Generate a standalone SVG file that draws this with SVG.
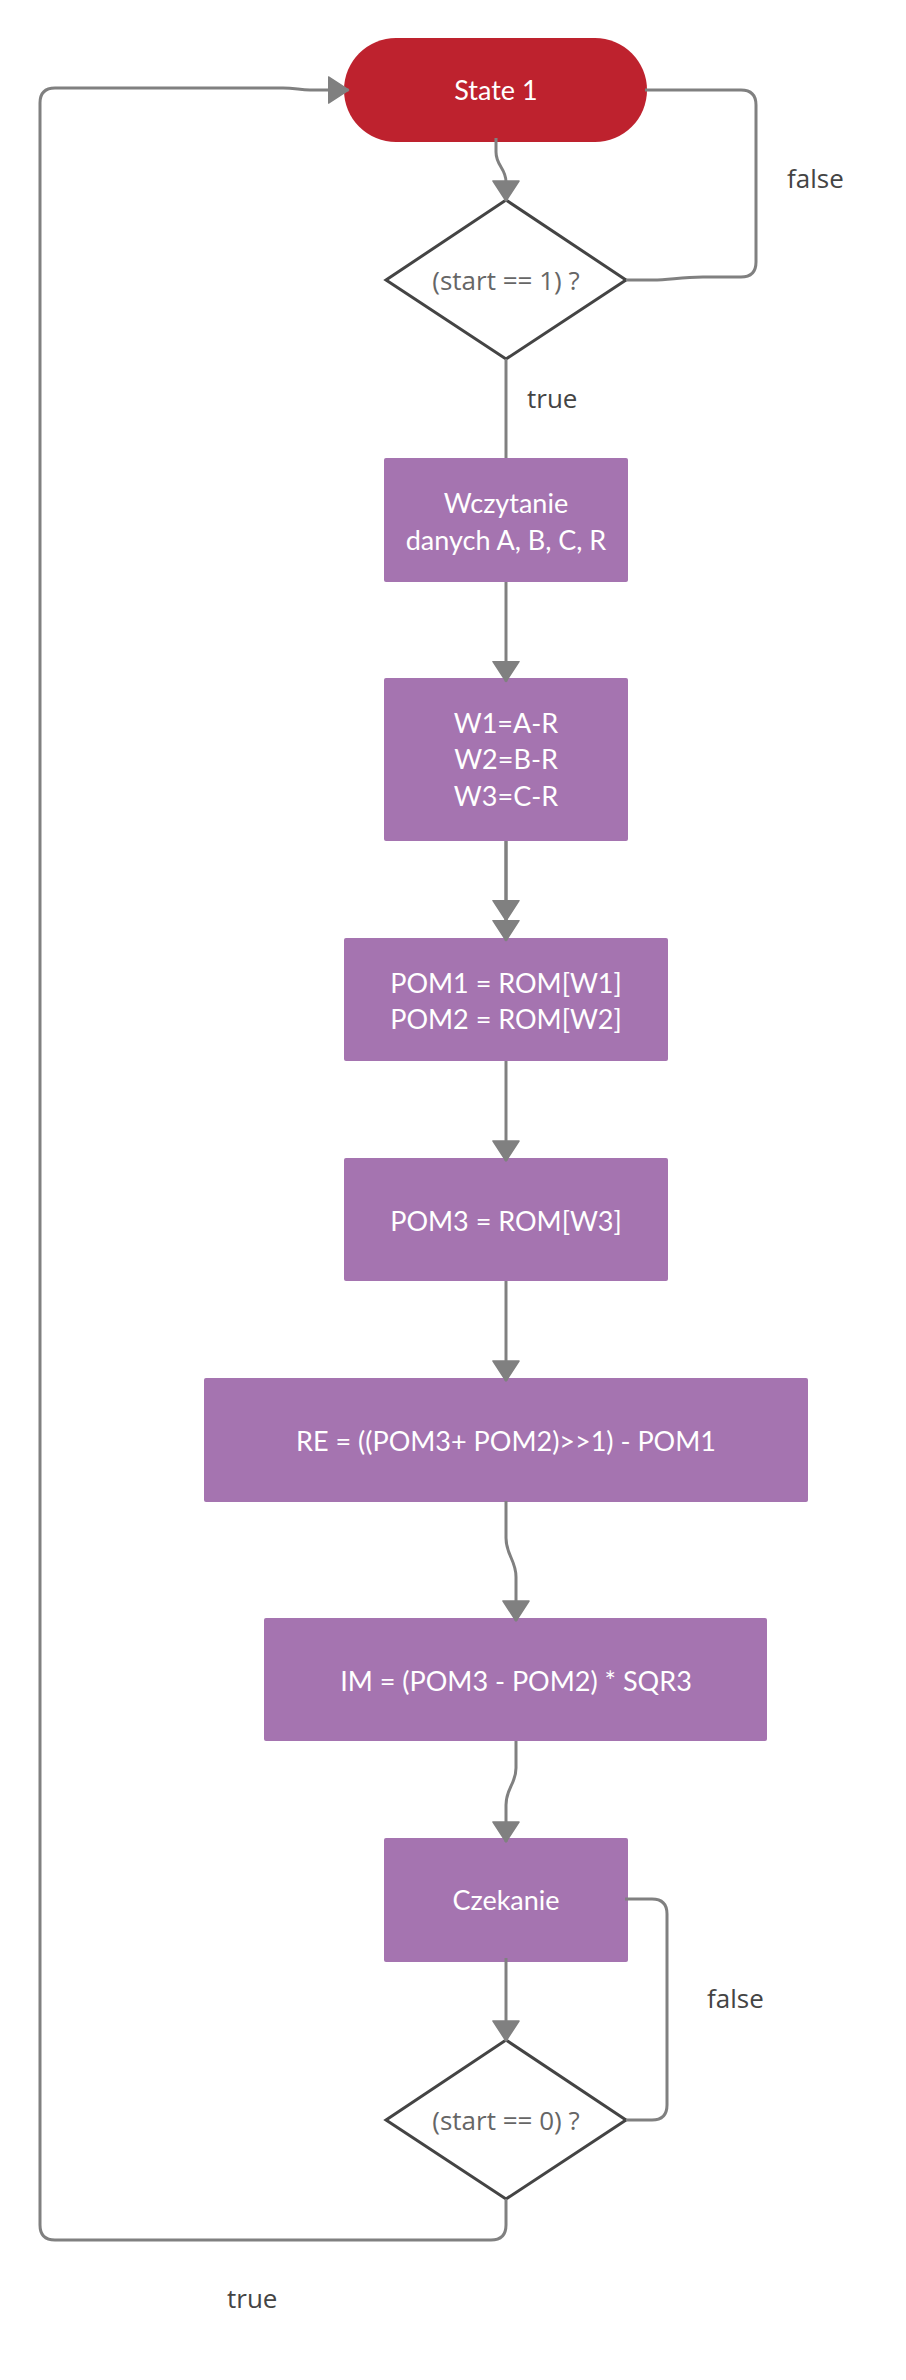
<svg xmlns="http://www.w3.org/2000/svg" width="906" height="2380" viewBox="0 0 906 2380">
<defs>
<marker id="arr" markerUnits="userSpaceOnUse" markerWidth="22" markerHeight="28" viewBox="0 0 22 28" refX="21" refY="14" orient="auto">
<path d="M1,1 L21,14 L1,27 Z" fill="#808080" stroke="#808080" stroke-width="1.5" stroke-linejoin="round"/>
</marker>
</defs>
<style>
.box{fill:#A574B0}
.pill{fill:#BE222E}
.dia{fill:#FFFFFF;stroke:#444444;stroke-width:3;stroke-linejoin:miter}
.nt{font-family:Lato,"Liberation Sans",sans-serif;font-size:27px;fill:#FFFFFF;text-anchor:middle}
.dt{font-family:"Open Sans","Noto Sans",sans-serif;font-size:26px;fill:#666666;text-anchor:middle}
.lb{font-family:"Open Sans","Noto Sans",sans-serif;font-size:26px;fill:#444444}
.c{fill:none;stroke:#808080;stroke-width:3;stroke-linejoin:round;stroke-linecap:butt}
</style>
<rect width="906" height="2380" fill="#FFFFFF"/>
<g id="state1">
<rect class="pill" x="344" y="38" width="303" height="104" rx="52" ry="52"/>
<text class="nt" x="496" y="100">State 1</text>
</g>
<g id="decision1">
<polygon class="dia" points="386,280 506,200 626,280 506,359"/>
<text class="dt" x="506" y="290">(start == 1) ?</text>
</g>
<g id="wczytanie">
<rect class="box" x="384" y="458" width="244" height="124" rx="2"/>
<text class="nt" x="506" y="512.5">Wczytanie</text>
<text class="nt" x="506" y="549.5">danych A, B, C, R</text>
</g>
<g id="w">
<rect class="box" x="384" y="678" width="244" height="163" rx="2"/>
<text class="nt" x="506" y="732.7">W1=A-R</text>
<text class="nt" x="506" y="769.3">W2=B-R</text>
<text class="nt" x="506" y="806">W3=C-R</text>
</g>
<g id="pom12">
<rect class="box" x="344" y="938" width="324" height="123" rx="2"/>
<text class="nt" x="506" y="992.7">POM1 = ROM[W1]</text>
<text class="nt" x="506" y="1029.3">POM2 = ROM[W2]</text>
</g>
<g id="pom3">
<rect class="box" x="344" y="1158" width="324" height="123" rx="2"/>
<text class="nt" x="506" y="1230.8">POM3 = ROM[W3]</text>
</g>
<g id="re">
<rect class="box" x="204" y="1378" width="604" height="124" rx="2"/>
<text class="nt" x="506" y="1451">RE = ((POM3+ POM2)&gt;&gt;1) - POM1</text>
</g>
<g id="im">
<rect class="box" x="264" y="1618" width="503" height="123" rx="2"/>
<text class="nt" x="516" y="1690.6">IM = (POM3 - POM2) * SQR3</text>
</g>
<g id="czekanie">
<rect class="box" x="384" y="1838" width="244" height="124" rx="2"/>
<text class="nt" x="506" y="1910">Czekanie</text>
</g>
<g id="decision2">
<polygon class="dia" points="386,2120 506,2040 626,2120 506,2199"/>
<text class="dt" x="506" y="2130">(start == 0) ?</text>
</g>
<g id="connectors">
<path class="c" d="M496,138 V152 C496,166 506,168 506,182 V201" marker-end="url(#arr)"/>
<path class="c" d="M645,90 H741 Q756,90 756,105 V262 Q756,277 741,277 H703 C680,277 670,280 653,280 H626"/>
<path class="c" d="M506,359 V458"/>
<path class="c" d="M506,582 V681.5" marker-end="url(#arr)"/>
<path class="c" d="M506,841 V920.7" marker-end="url(#arr)"/>
<path class="c" d="M506,841 V940.7" marker-end="url(#arr)"/>
<path class="c" d="M506,1061 V1161" marker-end="url(#arr)"/>
<path class="c" d="M506,1281 V1381" marker-end="url(#arr)"/>
<path class="c" d="M506,1501 V1538 C506,1555 516,1560 516,1577 V1621" marker-end="url(#arr)"/>
<path class="c" d="M516,1741 V1768 C516,1784 506,1788 506,1805 V1842" marker-end="url(#arr)"/>
<path class="c" d="M506,1958 V2041" marker-end="url(#arr)"/>
<path class="c" d="M626,2120 H652 Q667,2120 667,2105 V1914 Q667,1899 652,1899 H625"/>
<path class="c" d="M506,2199 V2225 Q506,2240 491,2240 H55 Q40,2240 40,2225 V103 Q40,88 55,88 H283 C295,88 300,90 310,90 H348.5" marker-end="url(#arr)"/>
<text class="lb" x="527" y="408">true</text>
<text class="lb" x="787" y="188">false</text>
<text class="lb" x="707" y="2008">false</text>
<text class="lb" x="227" y="2308">true</text>
</g>
</svg>
